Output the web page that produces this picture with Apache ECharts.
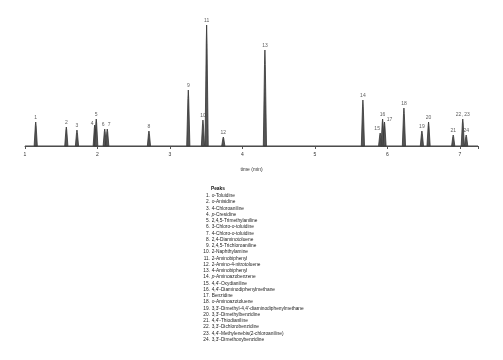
<!DOCTYPE html>
<html>
<head>
<meta charset="utf-8">
<script src="https://cdn.jsdelivr.net/npm/echarts@6/dist/echarts.min.js"></script>
<style>html,body{margin:0;padding:0;background:#fff}#c{width:503px;height:360px}</style>
</head>
<body>
<div id="c"></div>
<script>
// Peak retention times (min)
var peakTimes = [1.148, 1.570, 1.717, 1.962, 1.983, 2.100, 2.135, 2.710, 3.253, 3.455, 3.506, 3.736, 4.310, 5.662, 5.900, 5.934, 5.960, 6.228, 6.476, 6.568, 6.908, 7.040, 7.087];
// Peak heights (arbitrary detector units)
var peakHeights = [24, 19, 16, 21, 27, 17, 17, 15, 56, 26, 121, 9, 96, 46, 13, 27, 24, 38, 15, 24, 11, 27, 11];
// Peak labels
var peakLabels = ['1','2','3','4','5','6','7','8','9','10','11','12','13','14','15','16','17','18','19','20','21','22, 23','24'];
// Compound names
var compounds = ['o-Toluidine','o-Anisidine','4-Chloroaniline','p-Cresidine','2,4,5-Trimethylaniline','3-Chloro-o-toluidine','4-Chloro-o-toluidine','2,4-Diaminotoluene','2,4,5-Trichloroaniline','2-Naphthylamine','2-Aminobiphenyl','2-Amino-4-nitrotoluene','4-Aminobiphenyl','p-Aminoazobenzene',"4,4'-Oxydianiline","4,4'-Diaminodiphenylmethane",'Benzidine','o-Aminoazotoluene',"3,3'-Dimethyl-4,4'-diaminodiphenylmethane","3,3'-Dimethylbenzidine","4,4'-Thiodianiline","3,3'-Dichlorobenzidine","4,4'-Methylenebis(2-chloroaniline)","3,3'-Dimethoxybenzidine"];
var timeRange = [1, 7.25];
var peakHalfWidth = 0.022;
var xTicks = [1, 2, 3, 4, 5, 6, 7];

// label offsets (style only)
var labelOffsets = {'4':[-2.5,3],'6':[-1.5,0],'7':[1.8,0],'15':[-3,0],'17':[5,2]};

var chart = echarts.init(document.getElementById('c'), null, {renderer:'canvas'});
var FONT = '"Liberation Sans", Arial, sans-serif';
var LFS = 4.8;

var peakData = peakTimes.map(function(t,i){ return [t, peakHeights[i], peakLabels[i]]; });

function fmtName(s){
  var m = s.match(/^([op])-(.*)$/);
  if (m) return '{i|' + m[1] + '}-' + m[2];
  return s.replace(/-([op])-/, '-{i|$1}-');
}

var graphics = [];
graphics.push({type:'text', x:211, y:189, style:{text:'Peaks', font:'bold ' + LFS + 'px ' + FONT, fill:'#111', verticalAlign:'middle'}});
compounds.forEach(function(name, i){
  var y = 195.7 + i * 6.25;
  graphics.push({type:'text', x:210, y:y, style:{text:(i+1)+'.', font:LFS + 'px ' + FONT, fill:'#222', align:'right', verticalAlign:'middle'}});
  graphics.push({type:'text', x:211.7, y:y, style:{text:fmtName(name), font:LFS + 'px ' + FONT, fill:'#222', align:'left', verticalAlign:'middle',
    rich:{i:{fontStyle:'italic', fontSize:LFS, fontFamily:FONT, fill:'#222'}}}});
});

var option = {
  animation:false,
  backgroundColor:'#fff',
  grid:{left:25, right:25, top:20, bottom:211},
  xAxis:{
    type:'value', min:timeRange[0], max:timeRange[1], interval:1,
    axisLine:{lineStyle:{color:'#555', width:1}},
    axisTick:{length:3, lineStyle:{color:'#555'}},
    splitLine:{show:false},
    axisLabel:{fontSize:5, color:'#333', fontFamily:FONT, margin:3,
      formatter:function(v){ return xTicks.indexOf(v) >= 0 ? String(v) : ''; }},
    name:'time (min)', nameLocation:'middle', nameGap:18,
    nameTextStyle:{fontSize:5, color:'#333', fontFamily:FONT}
  },
  yAxis:{type:'value', min:-3, max:126, show:false, splitLine:{show:false}},
  graphic:graphics,
  series:[
    {
      type:'line', data:[[timeRange[0],0],[timeRange[1],0]], symbol:'none',
      lineStyle:{color:'#444', width:1}, silent:true
    },
    {
      type:'custom',
      data:peakData,
      renderItem:function(params, api){
        var t = api.value(0), h = api.value(1);
        var p0 = api.coord([t - peakHalfWidth, 0]);
        var p1 = api.coord([t - peakHalfWidth*0.25, h*0.85]);
        var p2 = api.coord([t, h]);
        var p3 = api.coord([t + peakHalfWidth*0.25, h*0.85]);
        var p4 = api.coord([t + peakHalfWidth, 0]);
        return {type:'polygon', shape:{points:[p0,p1,p2,p3,p4]},
          style:{fill:'#555', stroke:'#333', lineWidth:0.8}};
      },
      encode:{x:0, y:1}
    },
    {
      type:'scatter', data:peakData, symbolSize:0.1, silent:true,
      itemStyle:{color:'transparent'},
      label:{show:true, position:'top', distance:2, fontSize:5, color:'#333', fontFamily:FONT,
        formatter:function(p){ return p.data[2]; }},
      labelLayout:function(p){
        var lbl = peakData[p.dataIndex][2];
        var o = labelOffsets[lbl];
        if (!o) return {};
        return {dx:o[0], dy:o[1]};
      }
    }
  ]
};
chart.setOption(option);
</script>
</body>
</html>
